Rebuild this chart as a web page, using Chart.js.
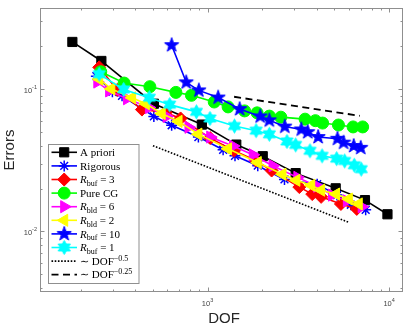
<!DOCTYPE html>
<html>
<head>
<meta charset="utf-8">
<script src="https://cdn.jsdelivr.net/npm/chart.js@4.4.0/dist/chart.umd.min.js"></script>
<style>
  html, body { margin: 0; padding: 0; background: #fff; }
  #wrap { width: 411px; height: 327px; }
</style>
</head>
<body>
<div id="wrap"><canvas id="errChart" width="411" height="327"></canvas></div>
<script>
// values (DOF vs error, log-log)
const aprioriDof = [180, 260, 506, 930, 1439, 2013, 3057, 5077, 7360, 9790];
const aprioriErr = [0.215, 0.158, 0.0791, 0.0564, 0.0408, 0.0338, 0.0257, 0.0201, 0.0166, 0.0132];

const rigorousDof = [244, 299, 338, 506, 634, 890, 1218, 1416, 1890, 2652, 4015, 5160, 6152, 7427];
const rigorousErr = [0.1236, 0.0958, 0.0899, 0.0644, 0.0558, 0.0461, 0.0375, 0.0340, 0.0290, 0.0232, 0.0215, 0.0180, 0.0154, 0.0142];

const buf3Dof = [253, 318, 435, 588, 710, 1034, 1398, 1843, 2253, 3202, 3771, 4222, 5426, 6634];
const buf3Err = [0.1426, 0.0989, 0.0719, 0.0686, 0.0623, 0.0453, 0.0369, 0.0315, 0.0268, 0.0205, 0.0183, 0.0175, 0.0156, 0.0144];

const pureCgDof = [258, 347, 481, 669, 815, 1088, 1297, 1599, 1874, 2189, 2532, 3444, 3926, 4301, 5258, 6332, 7148];
const pureCgErr = [0.1327, 0.1105, 0.1042, 0.0950, 0.0906, 0.0813, 0.0751, 0.0704, 0.0682, 0.0647, 0.0636, 0.0616, 0.0601, 0.0578, 0.0560, 0.0543, 0.0543];

const bld6Dof = [247, 287, 360, 475, 595, 785, 1034, 1381, 1774, 2282, 3124, 4015, 4849, 5850, 7063];
const bld6Err = [0.1123, 0.0973, 0.0857, 0.0743, 0.0644, 0.0540, 0.0461, 0.0399, 0.0346, 0.0290, 0.0240, 0.0208, 0.0180, 0.0164, 0.0149];

const bld2Dof = [253, 295, 384, 457, 559, 692, 890, 1297, 1890, 2586, 3083, 3724, 4222, 5097, 5998, 6803];
const bld2Err = [0.1178, 0.1005, 0.0871, 0.0791, 0.0675, 0.0594, 0.0483, 0.0381, 0.0305, 0.0252, 0.0229, 0.0211, 0.0195, 0.0183, 0.0169, 0.0156];

const buf10Dof = [634, 763, 895, 1144, 1502, 1950, 2189, 2663, 3282, 3562, 4064, 5192, 5612, 6383, 6975];
const buf10Err = [0.204, 0.1118, 0.0981, 0.0874, 0.0725, 0.0644, 0.0604, 0.0546, 0.0521, 0.0499, 0.0461, 0.0448, 0.0421, 0.0399, 0.0387];

const buf1Dof = [253, 345, 478, 618, 868, 1031, 1407, 1850, 2189, 2737, 3057, 3664, 4275, 5140, 5691, 6430, 7020];
const buf1Err = [0.1276, 0.0997, 0.0871, 0.0779, 0.0693, 0.0623, 0.0551, 0.0511, 0.0482, 0.0429, 0.0406, 0.0369, 0.0340, 0.0325, 0.0313, 0.0292, 0.0274];

// reference slopes
const rate05Dof = [500, 6000];
const rate05Err = [0.0401, 0.01158];
const rate025Dof = [1400, 6900];
const rate025Err = [0.0885, 0.065];

// axis limits and ticks
const xLimits = [119.4, 11924];
const yLimits = [0.00375, 0.3725];
const xMajorTicks = [1000, 10000];
const xTickExp = ['3', '4'];
const xMinorTicks = [200, 300, 400, 500, 600, 700, 800, 900, 2000, 3000, 4000, 5000, 6000, 7000, 8000, 9000];
const yMajorTicks = [0.01, 0.1];
const yTickExp = ['-2', '-1'];
const yMinorTicks = [0.004, 0.005, 0.006, 0.007, 0.008, 0.009, 0.02, 0.03, 0.04, 0.05, 0.06, 0.07, 0.08, 0.09, 0.2, 0.3];

const sansFont = '"Liberation Sans", Arial, Helvetica, sans-serif';
const serifFont = '"Liberation Serif", "Times New Roman", serif';

// filled star markers (pentagram / hexagram) as small canvases
function starMarker(points, outer, inner, color) {
    const size = Math.ceil(outer * 2 + 3);
    const cv = document.createElement('canvas');
    cv.width = size;
    cv.height = size;
    const c = cv.getContext('2d');
    const cx = size / 2, cy = size / 2;
    c.beginPath();
    for (let i = 0; i < points * 2; i++) {
        const r = i % 2 === 0 ? outer : inner;
        const a = -Math.PI / 2 + i * Math.PI / points;
        const px = cx + r * Math.cos(a), py = cy + r * Math.sin(a);
        if (i === 0) c.moveTo(px, py); else c.lineTo(px, py);
    }
    c.closePath();
    c.fillStyle = color;
    c.strokeStyle = color;
    c.lineWidth = 1;
    c.fill();
    c.stroke();
    return cv;
}

function toPoints(xs, ys) {
    return xs.map((x, i) => ({ x: x, y: ys[i] }));
}

function series(xs, ys, color, marker, extra) {
    return Object.assign({
        data: toPoints(xs, ys),
        borderColor: color,
        backgroundColor: color,
        pointBackgroundColor: color,
        pointBorderColor: color,
        borderWidth: 1.6,
        pointBorderWidth: 1,
        pointStyle: marker,
        pointRadius: 6,
        pointRotation: 0,
        tension: 0,
        fill: false
    }, extra || {});
}

const datasets = [
    series(aprioriDof, aprioriErr, '#000000', 'rect', { pointRadius: 6.5, legendParts: [{ t: 'A priori' }] }),
    series(rigorousDof, rigorousErr, '#0000ff', 'star', { pointRadius: 5.5, pointBorderWidth: 1.5, legendParts: [{ t: 'Rigorous' }] }),
    series(buf3Dof, buf3Err, '#ff0000', 'rectRot', { pointRadius: 6.5, legendParts: [{ t: 'R', it: true }, { t: 'buf', sub: true }, { t: ' = 3' }] }),
    series(pureCgDof, pureCgErr, '#00ff00', 'circle', { pointRadius: 6, legendParts: [{ t: 'Pure CG' }] }),
    series(bld6Dof, bld6Err, '#ff00ff', 'triangle', { pointRadius: 7, pointRotation: 90, legendParts: [{ t: 'R', it: true }, { t: 'bld', sub: true }, { t: ' = 6' }] }),
    series(bld2Dof, bld2Err, '#ffff00', 'triangle', { pointRadius: 7, pointRotation: -90, legendParts: [{ t: 'R', it: true }, { t: 'bld', sub: true }, { t: ' = 2' }] }),
    series(buf10Dof, buf10Err, '#0000ff', starMarker(5, 7.5, 3.0, '#0000ff'), { legendParts: [{ t: 'R', it: true }, { t: 'buf', sub: true }, { t: ' = 10' }] }),
    series(buf1Dof, buf1Err, '#00ffff', starMarker(6, 7, 4.0, '#00ffff'), { legendParts: [{ t: 'R', it: true }, { t: 'buf', sub: true }, { t: ' = 1' }] }),
    series(rate05Dof, rate05Err, '#000000', 'circle', { pointRadius: 0, borderWidth: 1.6, borderDash: [1.6, 1.6], legendParts: [{ t: '\u223C DOF' }, { t: '\u22120.5', sup: true }] }),
    series(rate025Dof, rate025Err, '#000000', 'circle', { pointRadius: 0, borderWidth: 1.8, borderDash: [7, 4.5], legendParts: [{ t: '\u223C DOF' }, { t: '\u22120.25', sup: true }] })
];
// later series are painted on top, like the original figure
datasets.forEach((d, i) => { d.order = datasets.length - i; });

function drawPow(ctx, exp, x, y, align) {
    ctx.font = '7.5px ' + sansFont;
    const wb = ctx.measureText('10').width;
    ctx.font = '5.5px ' + sansFont;
    const we = ctx.measureText(exp).width;
    let x0 = align === 'right' ? x - wb - we : x - (wb + we) / 2;
    ctx.textAlign = 'left';
    ctx.textBaseline = 'alphabetic';
    ctx.font = '7.5px ' + sansFont;
    ctx.fillText('10', x0, y);
    ctx.font = '5.5px ' + sansFont;
    ctx.fillText(exp, x0 + wb, y - 3.8);
}

const axesPlugin = {
    id: 'matlabAxes',
    beforeDatasetsDraw(chart) {
        const { ctx, chartArea: a, scales } = chart;
        const sx = scales.x, sy = scales.y;
        ctx.save();
        ctx.strokeStyle = '#8f8f8f';
        ctx.lineWidth = 1;
        ctx.strokeRect(a.left + 0.5, a.top + 0.5, a.right - a.left - 1, a.bottom - a.top - 1);
        const seg = (x1, y1, x2, y2) => { ctx.beginPath(); ctx.moveTo(x1, y1); ctx.lineTo(x2, y2); ctx.stroke(); };
        const xt = (v, len) => {
            const p = Math.round(sx.getPixelForValue(v)) + 0.5;
            seg(p, a.bottom, p, a.bottom - len);
            seg(p, a.top, p, a.top + len);
        };
        const yt = (v, len) => {
            const p = Math.round(sy.getPixelForValue(v)) + 0.5;
            seg(a.left, p, a.left + len, p);
            seg(a.right, p, a.right - len, p);
        };
        xMajorTicks.forEach(v => xt(v, 4.5));
        xMinorTicks.forEach(v => xt(v, 2.5));
        yMajorTicks.forEach(v => yt(v, 4.5));
        yMinorTicks.forEach(v => yt(v, 2.5));
        ctx.restore();
    },
    afterDraw(chart) {
        const { ctx, chartArea: a, scales } = chart;
        const sx = scales.x, sy = scales.y;
        ctx.save();
        ctx.fillStyle = '#444';
        xMajorTicks.forEach((v, i) => drawPow(ctx, xTickExp[i], sx.getPixelForValue(v), a.bottom + 14, 'center'));
        yMajorTicks.forEach((v, i) => drawPow(ctx, yTickExp[i], a.left - 3, sy.getPixelForValue(v) + 3.5, 'right'));

        // axis titles
        ctx.fillStyle = '#262626';
        ctx.font = '15px ' + sansFont;
        ctx.textAlign = 'center';
        ctx.textBaseline = 'middle';
        ctx.fillText('DOF', 224, 319);
        ctx.save();
        ctx.translate(10, (a.top + a.bottom) / 2);
        ctx.rotate(-Math.PI / 2);
        ctx.fillText('Errors', 0, 0);
        ctx.restore();

        // legend box
        const box = { x: 48.5, y: 144.5, w: 90.5, h: 139 };
        ctx.fillStyle = '#ffffff';
        ctx.fillRect(box.x, box.y, box.w, box.h);
        ctx.strokeStyle = '#8f8f8f';
        ctx.lineWidth = 1;
        ctx.strokeRect(box.x, box.y, box.w, box.h);
        datasets.forEach((d, i) => {
            const ry = 152.3 + i * 13.6;
            ctx.save();
            ctx.strokeStyle = d.borderColor;
            ctx.lineWidth = d.borderWidth;
            ctx.setLineDash(d.borderDash || []);
            ctx.beginPath();
            ctx.moveTo(51.5, ry);
            ctx.lineTo(77, ry);
            ctx.stroke();
            ctx.setLineDash([]);
            if (d.pointRadius > 0) {
                ctx.fillStyle = d.pointBackgroundColor;
                ctx.strokeStyle = d.pointBorderColor;
                ctx.lineWidth = d.pointBorderWidth;
                Chart.helpers.drawPoint(ctx, {
                    pointStyle: d.pointStyle,
                    radius: d.pointRadius,
                    rotation: d.pointRotation,
                    borderWidth: d.pointBorderWidth
                }, 64.2, ry);
            }
            ctx.restore();
            // label with sub/superscripts
            let tx = 80;
            ctx.fillStyle = '#000';
            ctx.textAlign = 'left';
            ctx.textBaseline = 'alphabetic';
            d.legendParts.forEach(p => {
                let size = 11, dy = 0;
                if (p.sub) { size = 8; dy = 2.8; }
                if (p.sup) { size = 8; dy = -4.2; }
                ctx.font = (p.it ? 'italic ' : '') + size + 'px ' + serifFont;
                ctx.fillText(p.t, tx, ry + 3.6 + dy);
                tx += ctx.measureText(p.t).width;
            });
        });
        ctx.restore();
    }
};

new Chart(document.getElementById('errChart'), {
    type: 'line',
    data: { datasets: datasets },
    options: {
        responsive: false,
        animation: false,
        layout: { padding: { left: 40, right: 4, top: 3, bottom: 35 } },
        plugins: { legend: { display: false }, tooltip: { enabled: false } },
        scales: {
            x: { type: 'logarithmic', min: xLimits[0], max: xLimits[1], display: false },
            y: { type: 'logarithmic', min: yLimits[0], max: yLimits[1], display: false }
        }
    },
    plugins: [axesPlugin]
});
</script>
</body>
</html>
